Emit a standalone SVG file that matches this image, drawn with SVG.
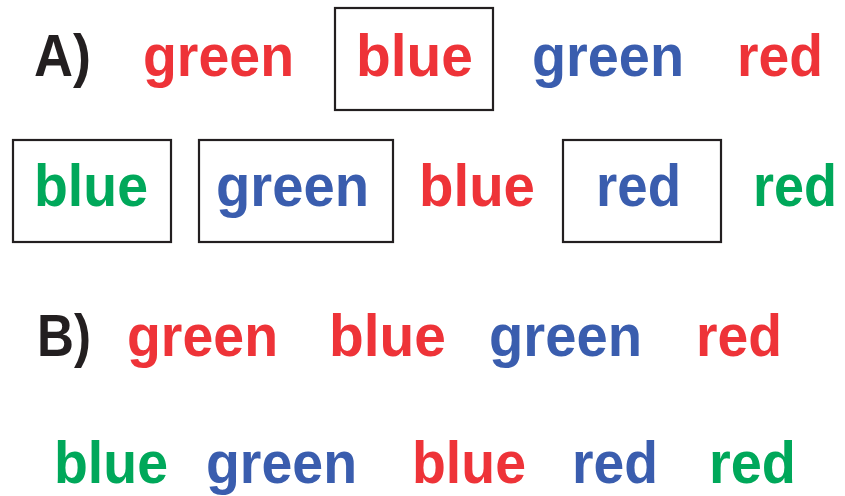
<svg xmlns="http://www.w3.org/2000/svg" width="845" height="496" viewBox="0 0 845 496">
<style>
text{font-family:"Liberation Sans",Arial,sans-serif;font-weight:bold;font-size:60px}
.r{fill:#EE3338}.b{fill:#3A5DAE}.g{fill:#00A85A}.k{fill:#231F20}
.box{fill:none;stroke:#231F20;stroke-width:2.2}
</style>
<rect width="845" height="496" fill="#fff"/>
<g id="rowA1">
<text class="k" x="34" y="76" textLength="57" lengthAdjust="spacingAndGlyphs">A)</text>
<text class="r" x="143" y="76" textLength="151" lengthAdjust="spacingAndGlyphs">green</text>
<g id="boxA1"><rect class="box" x="335" y="8" width="158" height="102"/>
<text class="r" x="356" y="76" textLength="117" lengthAdjust="spacingAndGlyphs">blue</text></g>
<text class="b" x="532" y="76" textLength="152" lengthAdjust="spacingAndGlyphs">green</text>
<text class="r" x="737" y="76" textLength="86" lengthAdjust="spacingAndGlyphs">red</text>
</g>
<g id="rowA2">
<g id="boxA2"><rect class="box" x="13" y="140" width="158" height="102"/>
<text class="g" x="34" y="206" textLength="114" lengthAdjust="spacingAndGlyphs">blue</text></g>
<g id="boxA3"><rect class="box" x="199" y="140" width="194" height="102"/>
<text class="b" x="216" y="206" textLength="153" lengthAdjust="spacingAndGlyphs">green</text></g>
<text class="r" x="419" y="206" textLength="116" lengthAdjust="spacingAndGlyphs">blue</text>
<g id="boxA4"><rect class="box" x="563" y="140" width="158" height="102"/>
<text class="b" x="596" y="206" textLength="85" lengthAdjust="spacingAndGlyphs">red</text></g>
<text class="g" x="753" y="206" textLength="84" lengthAdjust="spacingAndGlyphs">red</text>
</g>
<g id="rowB1">
<text class="k" x="37" y="356" textLength="54" lengthAdjust="spacingAndGlyphs">B)</text>
<text class="r" x="127" y="356" textLength="151" lengthAdjust="spacingAndGlyphs">green</text>
<text class="r" x="329" y="356" textLength="117" lengthAdjust="spacingAndGlyphs">blue</text>
<text class="b" x="489" y="356" textLength="153" lengthAdjust="spacingAndGlyphs">green</text>
<text class="r" x="696" y="356" textLength="86" lengthAdjust="spacingAndGlyphs">red</text>
</g>
<g id="rowB2">
<text class="g" x="54" y="483" textLength="114" lengthAdjust="spacingAndGlyphs">blue</text>
<text class="b" x="206" y="483" textLength="151" lengthAdjust="spacingAndGlyphs">green</text>
<text class="r" x="412" y="483" textLength="114" lengthAdjust="spacingAndGlyphs">blue</text>
<text class="b" x="572" y="483" textLength="86" lengthAdjust="spacingAndGlyphs">red</text>
<text class="g" x="709" y="483" textLength="87" lengthAdjust="spacingAndGlyphs">red</text>
</g>
</svg>
